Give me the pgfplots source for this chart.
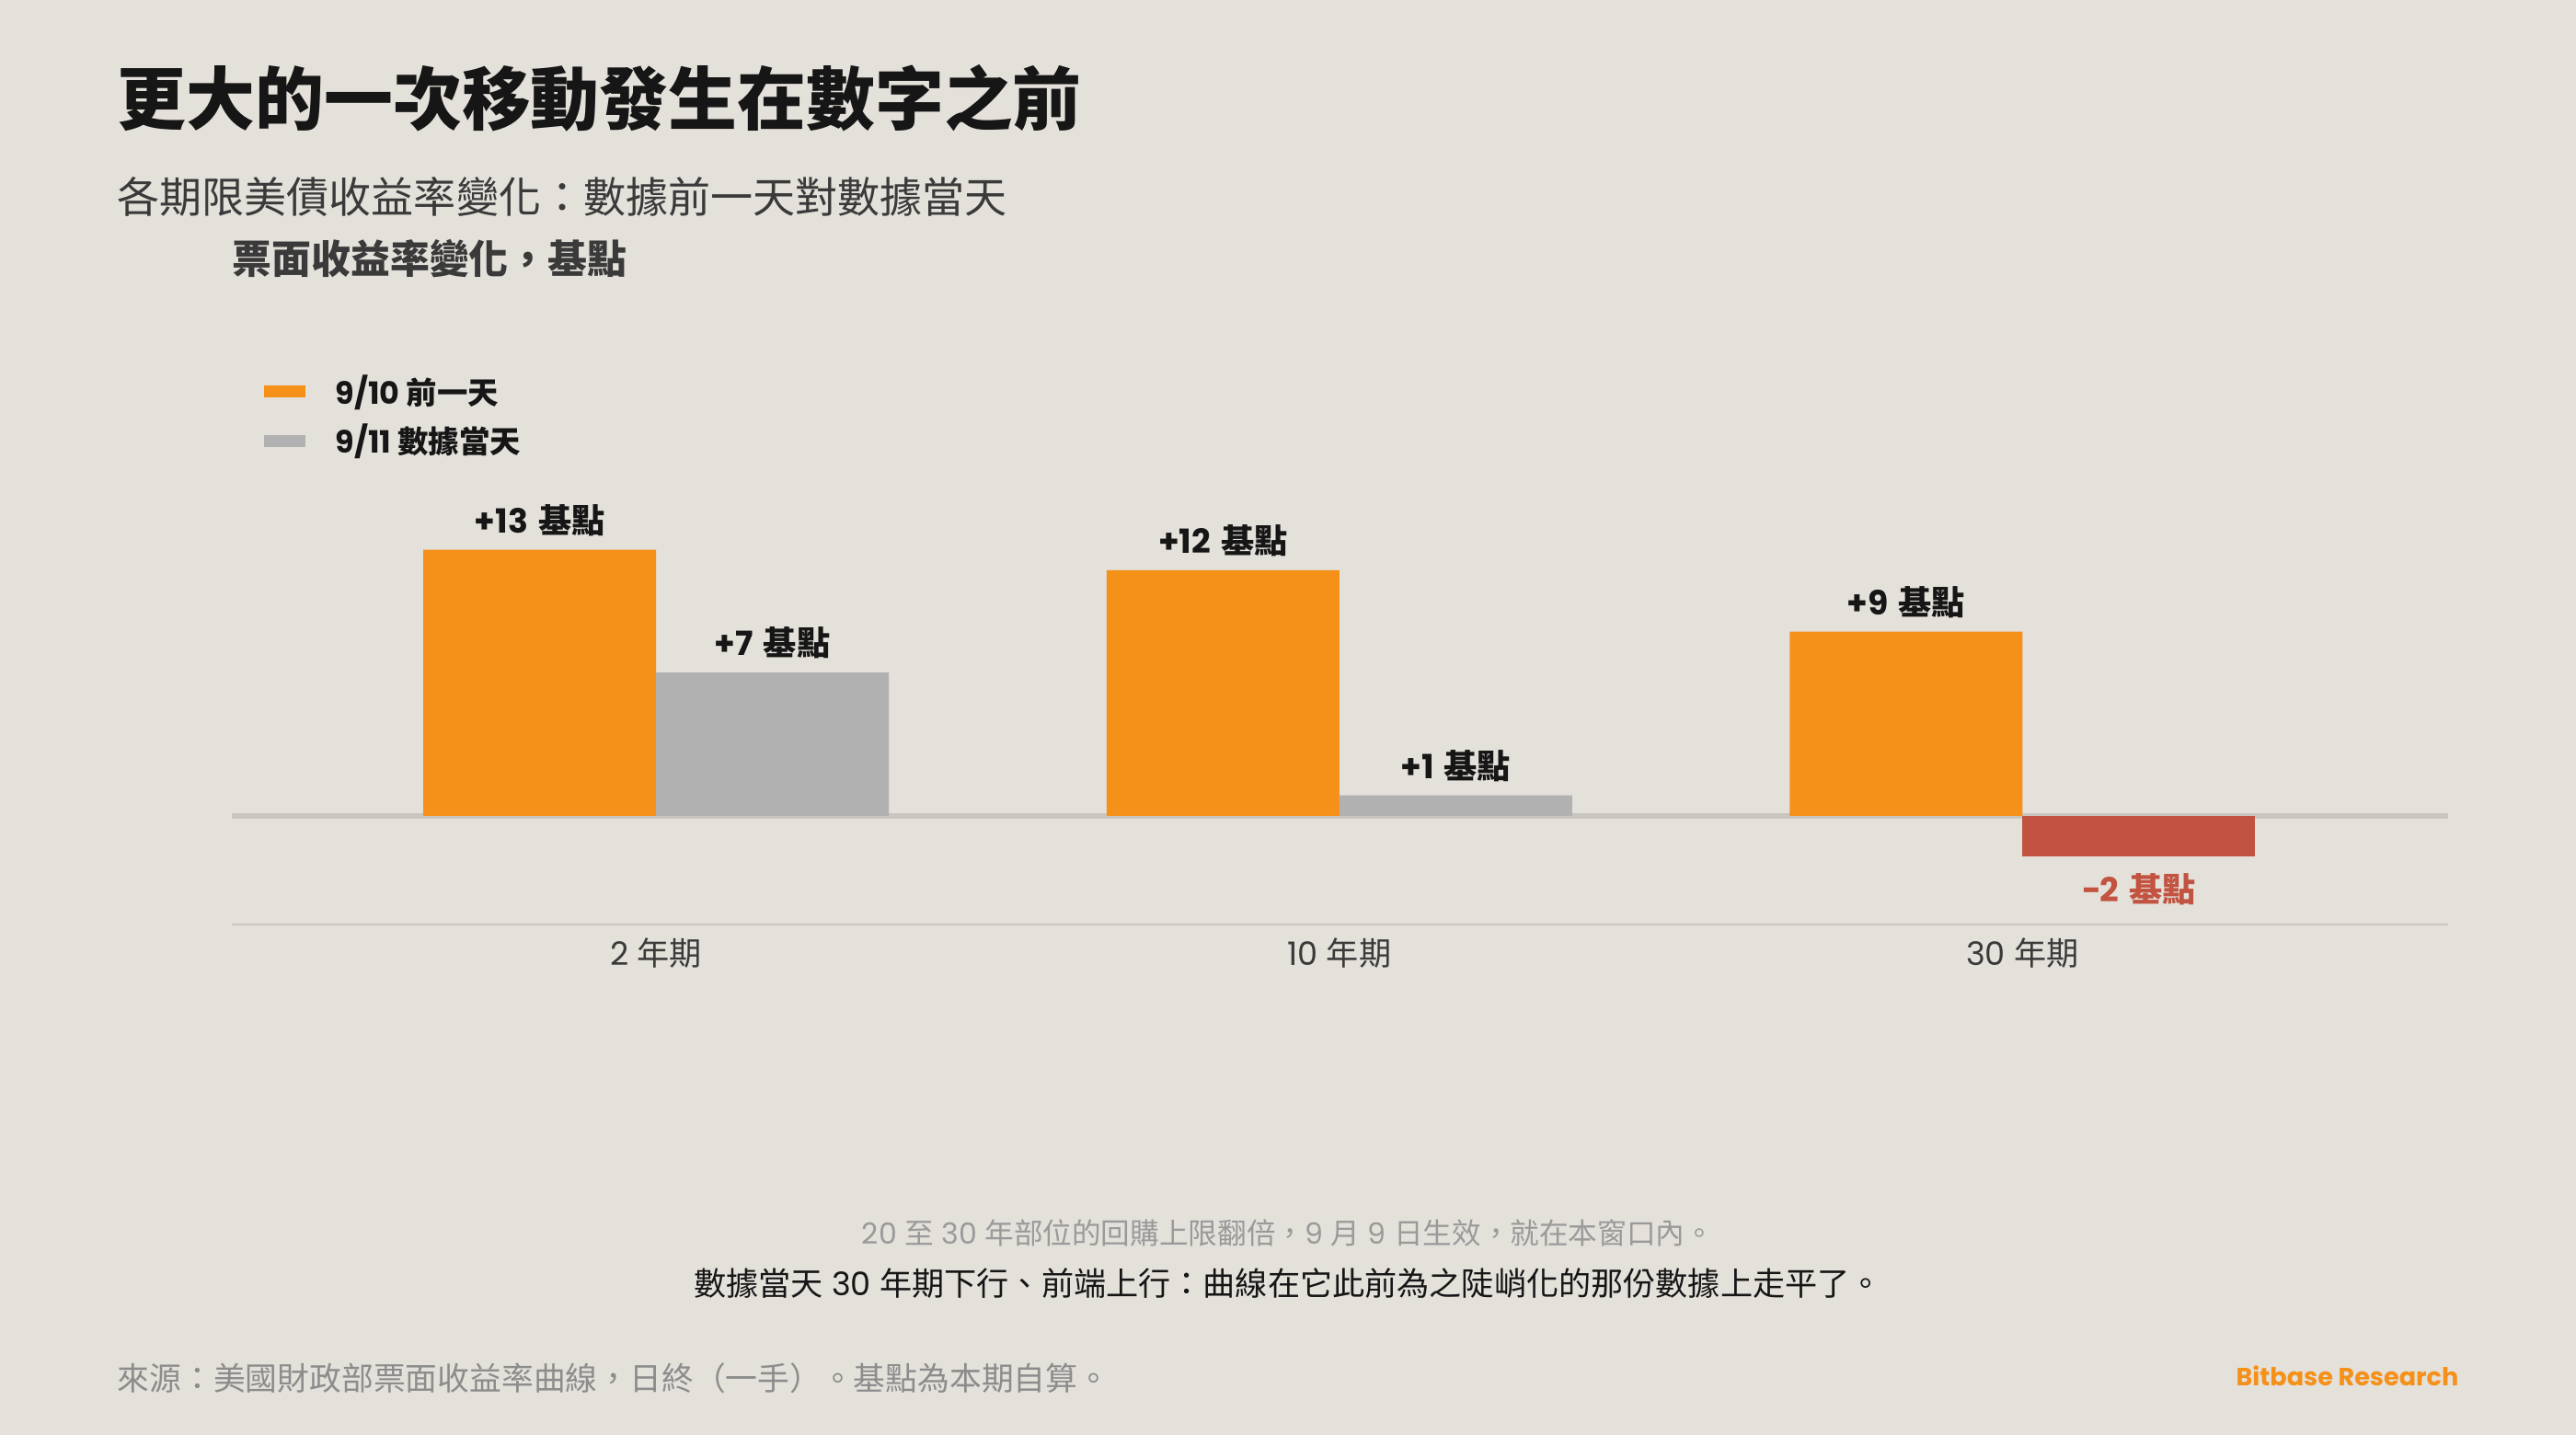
\documentclass[border=0pt]{standalone}
\usepackage{fontspec}
\usepackage{pgfplots}
\pgfplotsset{compat=1.18}
\setmainfont{Poppins}
\newfontfamily\cjk{Noto Sans CJK TC}
\newcommand\zh[1]{{\cjk #1}}
\newcommand\fs[1]{\fontsize{#1}{#1}\selectfont}

\definecolor{bgc}{HTML}{E4E0DA}
\definecolor{orng}{HTML}{F59019}
\definecolor{grybar}{HTML}{B1B1B1}
\definecolor{redbar}{HTML}{C25340}
\definecolor{zeroln}{HTML}{C9C5BF}
\definecolor{axln}{HTML}{CBC7C1}
\definecolor{ink}{HTML}{161616}
\definecolor{subink}{HTML}{3A3A3A}
\definecolor{note}{HTML}{9A9A9A}
\definecolor{src}{HTML}{8C8C8C}

\begin{document}
\begin{tikzpicture}[x=1cm,y=1cm]
\fill[bgc] (0,0) rectangle (28,15.6);
\useasboundingbox (0,0) rectangle (28,15.6);

% headings
\node[anchor=west, inner sep=0pt, text=ink] at (1.27,14.53)
  {\fs{21.3}\cjk\bfseries 更大的一次移動發生在數字之前};
\node[anchor=west, inner sep=0pt, text=subink] at (1.27,13.46)
  {\fs{13.1}\cjk 各期限美債收益率變化：數據前一天對數據當天};
\node[anchor=west, inner sep=0pt, text=subink] at (2.52,12.79)
  {\fs{12.2}\cjk\bfseries 票面收益率變化，基點};

\begin{axis}[
  at={(2.52cm,5.55cm)}, anchor=south west,
  scale only axis, width=24.09cm, height=4.52cm,
  xmin=-0.621, xmax=2.623, ymin=-5.3, ymax=15,
  axis y line=none, axis x line*=bottom,
  x axis line style={draw=axln, line width=0.6pt, -},
  xtick={0,1,2},
  xticklabels={{2 \zh{年期}}, {10 \zh{年期}}, {30 \zh{年期}}},
  xtick style={draw=none},
  xticklabel style={font=\fs{10}, text=subink, inner sep=0pt, yshift=-0.14cm},
  bar width=2.53cm,
  point meta=explicit symbolic,
  legend style={draw=none, fill=none, at={(rel axis cs:0.0097,1.339)}, anchor=north west,
    font=\fs{9.5}\bfseries, text=ink, row sep=0.165cm, column sep=0.33cm,
    nodes={inner sep=0pt}},
  legend cell align=left,
]
% zero line
\addplot[forget plot, draw=zeroln, line width=1.6pt] coordinates {(-0.621,0) (2.623,0)};

\addplot[ybar, bar shift=-1.265cm, fill=orng, draw=none,
  nodes near coords={\pgfplotspointmeta\hspace{0.3em}\zh{基點}},
  nodes near coords style={font=\fs{10.3}\bfseries, text=ink, inner sep=0pt, anchor=south,
    xshift=-1.265cm, yshift=0.14cm},
  legend image code/.code={\fill[orng] (0cm,-0.065cm) rectangle (0.45cm,0.065cm);}]
  coordinates {(0,13) [+13] (1,12) [+12] (2,9) [+9]};
\addlegendentry{9/10 \zh{前一天}}

\addplot[ybar, bar shift=1.265cm, fill=grybar, draw=none,
  nodes near coords={\pgfplotspointmeta\hspace{0.3em}\zh{基點}},
  nodes near coords style={font=\fs{10.3}\bfseries, text=ink, inner sep=0pt, anchor=south,
    xshift=1.265cm, yshift=0.14cm},
  legend image code/.code={\fill[grybar] (0cm,-0.065cm) rectangle (0.45cm,0.065cm);}]
  coordinates {(0,7) [+7] (1,1) [+1]};
\addlegendentry{9/11 \zh{數據當天}}

\addplot[forget plot, ybar, bar shift=1.265cm, fill=redbar, draw=none,
  nodes near coords={\pgfplotspointmeta\hspace{0.3em}\zh{基點}},
  nodes near coords style={font=\fs{10.3}\bfseries, text=redbar, inner sep=0pt, anchor=north,
    xshift=1.265cm, yshift=-0.17cm}]
  coordinates {(2,-2) [−2]};
\end{axis}

% notes
\node[inner sep=0pt, text=note] at (14,2.20)
  {\fs{9}20 \zh{至} 30 \zh{年部位的回購上限翻倍，}9 \zh{月} 9 \zh{日生效，就在本窗口內。}};
\node[inner sep=0pt, text=ink] at (14,1.65)
  {\fs{10}\zh{數據當天} 30 \zh{年期下行、前端上行：曲線在它此前為之陡峭化的那份數據上走平了。}};
\node[anchor=west, inner sep=0pt, text=src] at (1.27,0.62)
  {\fs{9.9}\zh{來源：美國財政部票面收益率曲線，日終（一手）。基點為本期自算。}};
\node[anchor=east, inner sep=0pt, text=orng] at (26.73,0.64)
  {\fs{7.7}\bfseries Bitbase Research};
\end{tikzpicture}
\end{document}
